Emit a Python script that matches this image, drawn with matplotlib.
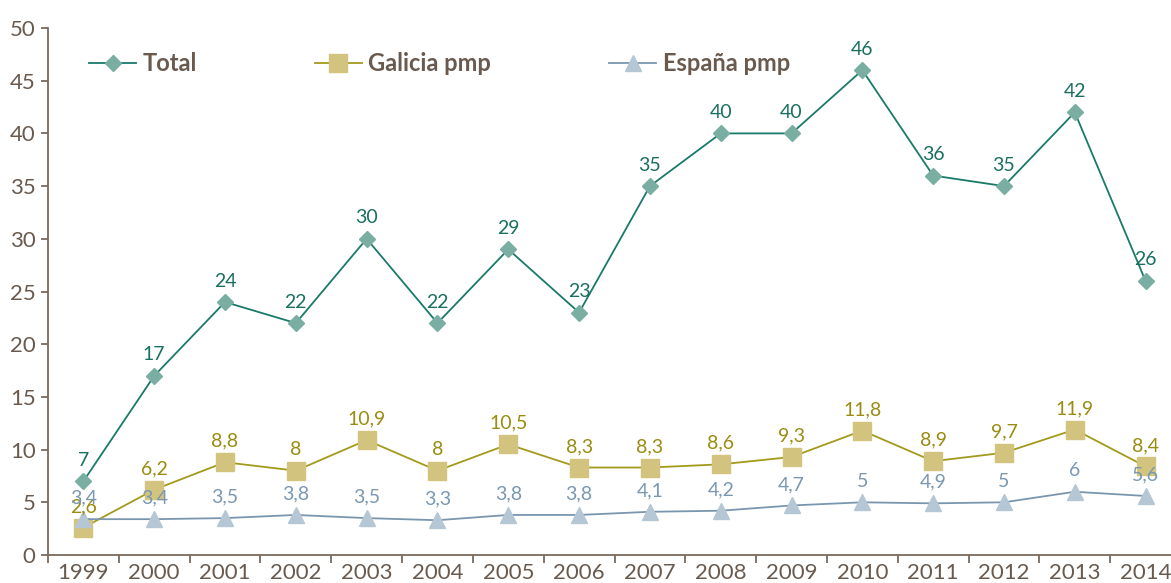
import matplotlib.pyplot as plt
from matplotlib.lines import Line2D

years = [str(y) for y in range(1999, 2015)]
total = [7, 17, 24, 22, 30, 22, 29, 23, 35, 40, 40, 46, 36, 35, 42, 26]
galicia = [2.6, 6.2, 8.8, 8, 10.9, 8, 10.5, 8.3, 8.3, 8.6, 9.3, 11.8, 8.9, 9.7, 11.9, 8.4]
espana = [3.4, 3.4, 3.5, 3.8, 3.5, 3.3, 3.8, 3.8, 4.1, 4.2, 4.7, 5, 4.9, 5, 6, 5.6]

plt.rcParams['font.family'] = ['Lato', 'DejaVu Sans']

axis_col = '#7a6a5e'
text_col = '#6a5a4e'

fig = plt.figure(figsize=(11.71, 5.83), dpi=100)
ax = fig.add_axes([48 / 1171, 28 / 583, 1133 / 1171, 527 / 583])

x = list(range(len(years)))

series = [
    (total, 'Total', '#1a7a6a', '#7aaea2', 'D', 8, '#1a7060'),
    (galicia, 'Galicia pmp', '#a39a1c', '#d2c47e', 's', 13, '#9a8c10'),
    (espana, 'España pmp', '#7a96ae', '#b5c7d4', '^', 12, '#7a98b2'),
]

handles = []
for vals, name, lc, mc, mk, ms, tc in series:
    ax.plot(x, vals, color=lc, lw=1.3, marker=mk, ms=ms, mfc=mc, mec=mc, zorder=3)
    handles.append(Line2D([], [], color=lc, lw=1.3, marker=mk, ms=ms, mfc=mc, mec=mc))
    for xi, v in zip(x, vals):
        lab = ('%g' % v).replace('.', ',')
        ax.annotate(lab, (xi, v), xytext=(0, 9), textcoords='offset points',
                    ha='center', va='bottom', fontsize=14, color=tc, zorder=4)

ax.set_xlim(-0.5, len(years) - 0.5)
ax.set_ylim(0, 50)
ax.set_yticks(range(0, 51, 5))
ax.set_xticks(x)
ax.set_xticklabels(years)
ax.set_xticks([i - 0.5 for i in range(len(years) + 1)], minor=True)

for s in ['top', 'right']:
    ax.spines[s].set_visible(False)
for s in ['left', 'bottom']:
    ax.spines[s].set_color(axis_col)
    ax.spines[s].set_linewidth(1.3)

ax.tick_params(axis='y', direction='out', length=5, width=1.3, color=axis_col,
               labelcolor=text_col, labelsize=16, pad=4)
ax.tick_params(axis='x', which='major', length=0, labelcolor=text_col, labelsize=16, pad=6)
ax.tick_params(axis='x', which='minor', direction='out', length=6, width=1.3, color=axis_col)

leg = ax.legend(handles, [s[1] for s in series], loc='upper left', ncol=3,
                bbox_to_anchor=(0.0175, 0.995), frameon=False, handlelength=2.0,
                columnspacing=5.0, handletextpad=0.26,
                prop={'weight': 'bold', 'size': 17})
for t in leg.get_texts():
    t.set_color(text_col)

fig.savefig('out.png', dpi=100)
